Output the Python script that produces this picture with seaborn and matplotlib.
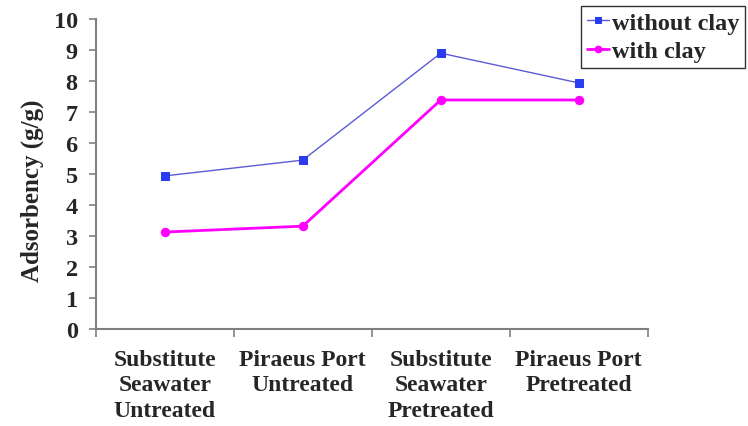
import matplotlib
matplotlib.use("Agg")
import matplotlib.pyplot as plt
import seaborn as sns
import pandas as pd
from matplotlib.ticker import FixedLocator

categories = ["Substitute\nSeawater\nUntreated", "Piraeus Port\nUntreated",
              "Substitute\nSeawater\nPretreated", "Piraeus Port\nPretreated"]
without_clay = [4.94, 5.45, 8.9, 7.94]
with_clay = [3.13, 3.32, 7.39, 7.39]
y_ticks = list(range(0, 11))

sns.set_theme(style="white")
plt.rcParams['font.family'] = ['Liberation Serif', 'DejaVu Serif']
plt.rcParams['font.weight'] = 'bold'

df1 = pd.DataFrame({"cat": categories, "val": without_clay})
df2 = pd.DataFrame({"cat": categories, "val": with_clay})

fig = plt.figure(figsize=(7.48, 4.27), dpi=100)
ax = fig.add_axes([0.128, 0.227, 0.738, 0.726])

sns.lineplot(data=df1, x="cat", y="val", ax=ax, color="#5b5bd6", lw=1.0,
             marker="s", markersize=6, markerfacecolor="#2b3cf0",
             markeredgecolor="#2b3cf0", label="without clay", sort=False)
sns.lineplot(data=df2, x="cat", y="val", ax=ax, color="#ff00ff", lw=2.0,
             marker="o", markersize=6, markerfacecolor="#ff00ff",
             markeredgecolor="#ff00ff", label="with clay", sort=False)

ax.set_xlim(-0.5, 3.5)
ax.set_ylim(0, 10)
ax.set_yticks(y_ticks)
ax.set_yticklabels([str(t) for t in y_ticks], fontsize=17.5, fontweight='bold')
ax.set_xticks(range(len(categories)))
ax.set_xticklabels(categories, fontsize=17, fontweight='bold', linespacing=1.3)
ax.xaxis.set_minor_locator(FixedLocator([-0.5, 0.5, 1.5, 2.5, 3.5]))
ax.tick_params(axis='x', which='major', length=0, pad=14)
ax.tick_params(axis='x', which='minor', length=6, direction='out', color='#808080', width=1.2, bottom=True)
ax.tick_params(axis='y', length=5, direction='out', color='#808080', width=1.2, left=True, pad=8)
ax.set_xlabel("")
ax.set_ylabel("Adsorbency (g/g)", fontsize=18, fontweight='bold')
ax.yaxis.set_label_coords(-0.093, 0.45)

for s in ["top", "right"]:
    ax.spines[s].set_visible(False)
for s in ["left", "bottom"]:
    ax.spines[s].set_color("#808080")
    ax.spines[s].set_linewidth(1.5)

leg = ax.legend(loc="upper right", bbox_to_anchor=(0.996, 0.984),
                bbox_transform=fig.transFigure, fontsize=17.5, frameon=True,
                fancybox=False, handlelength=0.9, handletextpad=0.1,
                borderpad=0.25, labelspacing=0.25, borderaxespad=0,
                markerscale=0.8)
leg.get_frame().set_edgecolor("black")
leg.get_frame().set_linewidth(1.0)
for t in leg.get_texts():
    t.set_fontweight('bold')

fig.savefig("out.png", dpi=100)
